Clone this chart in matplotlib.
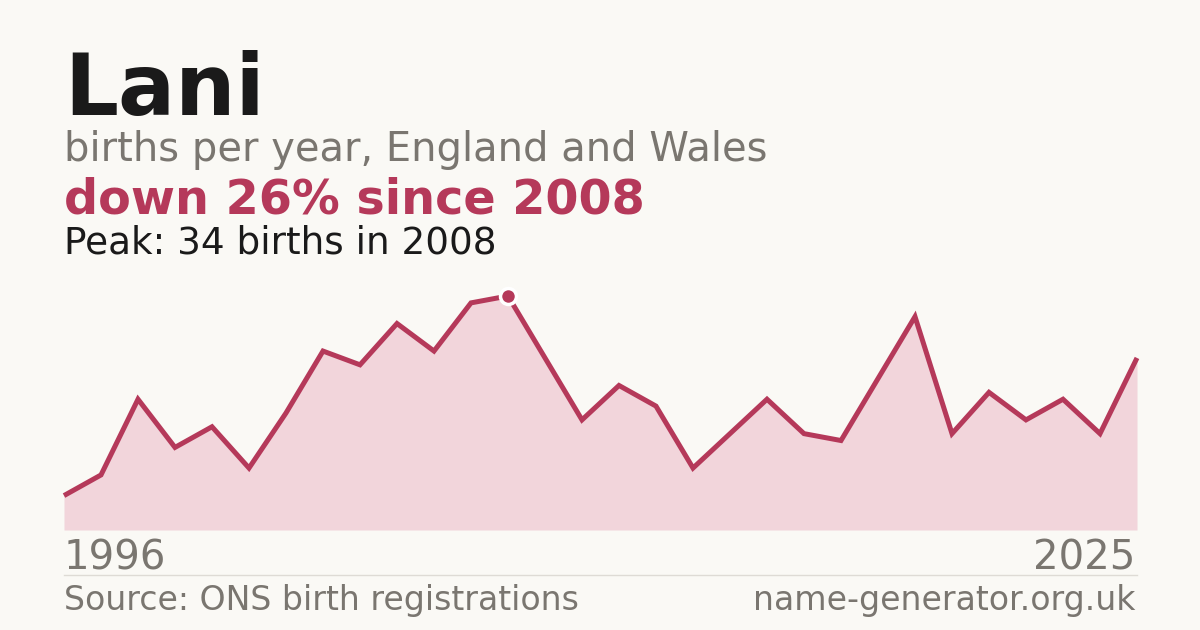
import matplotlib
matplotlib.use("Agg")
import matplotlib.pyplot as plt

years = list(range(1996, 2026))
births = [5, 8, 19, 12, 15, 9, 17, 26, 24, 30, 26, 33, 34, 25, 16, 21, 18, 9, 14, 19,
          14, 13, 22, 31, 14, 20, 16, 19, 14, 25]
title = "Lani"
subtitle = "births per year, England and Wales"
headline = "down 26% since 2008"
peak_text = "Peak: 34 births in 2008"
source = "Source: ONS birth registrations"
site = "name-generator.org.uk"

BG = "#faf9f5"
RED = "#b5395a"
FILL = "#f2d5db"
GRAY = "#7a7670"
DARK = "#1a1a1a"

W, H = 1200, 630
fig = plt.figure(figsize=(W / 100, H / 100), dpi=100, facecolor=BG)
plt.rcParams['font.family'] = ['DejaVu Sans']

def fx(px):
    return px / W

def fy(py):
    return 1 - py / H

ax = fig.add_axes([fx(64), fy(530), fx(1137) - fx(64), (530 - 296) / H])
ax.set_facecolor("none")
ax.fill_between(years, births, 0, color=FILL, lw=0, clip_on=False)
ax.plot(years, births, color=RED, lw=3.6, solid_joinstyle='miter', solid_capstyle='butt',
        clip_on=False)
pk = births.index(max(births))
ax.plot([years[pk]], [births[pk]], marker='o', ms=11.5, color=RED, mec='white', mew=2.5,
        clip_on=False, zorder=5)
ax.set_xlim(years[0], years[-1])
ax.set_ylim(0, max(births))
ax.axis('off')

fig.text(fx(64), fy(115), title, fontsize=61, fontweight='bold', color=DARK, va='baseline')
fig.text(fx(64), fy(161), subtitle, fontsize=28.8, color=GRAY, va='baseline')
fig.text(fx(64), fy(214), headline, fontsize=34.4, fontweight='bold', color=RED, va='baseline')
fig.text(fx(64), fy(254), peak_text, fontsize=26.9, color=DARK, va='baseline')
fig.text(fx(64), fy(569), str(years[0]), fontsize=28.9, color=GRAY, va='baseline')
fig.text(fx(1135), fy(569), str(years[-1]), fontsize=28.9, color=GRAY, va='baseline', ha='right')
fig.add_artist(plt.Line2D([fx(64), fx(1137)], [fy(574.5), fy(574.5)], color="#dedbd5", lw=1))
fig.text(fx(64), fy(610), source, fontsize=23.9, color=GRAY, va='baseline')
fig.text(fx(1135), fy(610), site, fontsize=23.9, color=GRAY, va='baseline', ha='right')

fig.savefig("out.png", dpi=100, facecolor=BG)
